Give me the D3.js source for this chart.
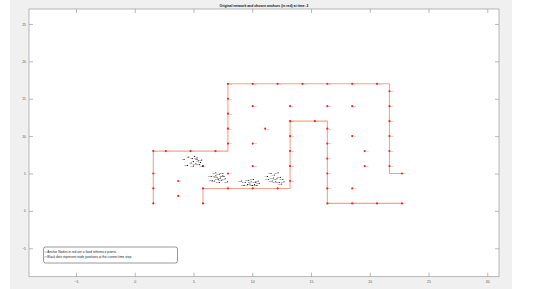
<!DOCTYPE html>
<html>
<head>
<meta charset="utf-8">
<script src="https://cdn.jsdelivr.net/npm/d3@7"></script>
<style>
  body { margin: 0; background: #fff; }
  text { font-family: "Liberation Sans", Arial, sans-serif; }
</style>
</head>
<body>
<div id="chart"></div>
<script>
// data
const titleText = "Original network and chosen anchors (in red) at time: 2";
const legendLines = ["Anchor Nodes in red are a fixed reference points.",
                     "Black dots represent node positions at the current time step."];
const xTicks = [-5, 0, 5, 10, 15, 20, 25, 30];
const yTicks = [-5, 0, 5, 10, 15, 20, 25];

// outline (two polylines)
const path1X = [1.58, 1.58, 7.93, 7.93, 21.68, 21.68, 22.74];
const path1Y = [1, 8, 8, 17, 17, 5, 5];
const path2X = [5.81, 5.81, 13.22, 13.22, 16.39, 16.39, 22.74];
const path2Y = [1, 3, 3, 12, 12, 1, 1];

// anchors (red)
const anchorX = [1.58,1.58,1.58,1.58, 2.64, 3.70,3.70, 4.75, 5.81,5.81,5.81, 6.87,
  7.93,7.93,7.93,7.93,7.93,7.93,7.93, 10.04,10.04,10.04,10.04,10.04, 11.10,
  12.16,12.16, 13.22,13.22,13.22,13.22,13.22,13.22, 14.28, 15.33,
  16.39,16.39,16.39,16.39,16.39,16.39,16.39,16.39, 18.51,18.51,18.51,18.51,18.51,
  19.57,19.57, 20.62,20.62, 21.68,21.68,21.68,21.68,21.68,21.68, 22.74,22.74];
const anchorY = [8,5,3,1, 8, 4,2, 8, 6,3,1, 8,
  17,15,13,11,9,5,3, 17,14,9,6,3, 11,
  17,3, 14,12,10,8,6,4, 17, 12,
  17,14,11,9,7,5,3,1, 17,14,10,3,1,
  8,6, 17,1, 16,14,12,10,8,6, 5,1];

// current node positions (black)
const nodeX = [4.2,4.6,4.9,5.1,5.3,5.0,5.4,5.6,4.8,5.2,5.5,4.5,5.8,5.0,5.3,5.7,
  6.5,6.9,7.2,7.5,7.0,7.3,7.6,7.1,7.4,6.8,7.7,7.9,6.6,7.2,7.5,6.9,
  9.1,9.4,9.7,9.9,10.1,10.3,10.5,9.8,10.2,10.0,10.6,9.6,9.3,10.4,
  11.3,11.6,11.9,12.2,11.8,12.1,12.4,12.6,11.7,12.0,12.3,12.5,11.4,12.7];
const nodeY = [6.9,7.2,7.0,7.3,6.9,6.6,6.7,6.5,6.4,6.3,6.2,6.1,6.0,6.0,7.1,6.8,
  4.6,5.1,4.9,5.0,4.5,4.4,4.6,4.2,4.1,4.0,4.3,3.9,4.1,3.8,4.7,4.7,
  4.0,3.8,4.1,3.9,4.2,3.8,4.0,3.6,3.5,3.4,3.7,3.5,3.4,3.4,
  4.6,5.0,4.8,5.1,4.4,4.3,4.5,4.2,4.0,3.9,3.8,3.6,4.2,3.9];

var width = 550, height = 289;

var svg = d3.select("#chart").append("svg")
  .attr("width", width)
  .attr("height", height);

// figure background
svg.append("rect")
  .attr("x", 10).attr("y", 0)
  .attr("width", 502).attr("height", 289)
  .attr("fill", "#f0f0f0");

var x = d3.scaleLinear().domain([-9, 31]).range([29, 499]);
var y = d3.scaleLinear().domain([-8.8, 27]).range([276.7, 9]);

// axes area
svg.append("rect")
  .attr("x", x(-9)).attr("y", y(27))
  .attr("width", x(31) - x(-9)).attr("height", y(-8.8) - y(27))
  .attr("fill", "#fff");

function styleAxis(g) {
  g.select(".domain").remove();
  g.selectAll(".tick line").attr("stroke", "#8c8c8c").attr("stroke-width", 0.6);
  g.selectAll(".tick text").attr("fill", "#555").attr("font-size", 3.4);
}

svg.append("g").attr("transform", "translate(0," + y(-8.8) + ")")
  .call(d3.axisBottom(x).tickValues(xTicks).tickSize(-4).tickPadding(3.5))
  .call(styleAxis);
svg.append("g").attr("transform", "translate(0," + y(27) + ")")
  .call(d3.axisTop(x).tickValues(xTicks).tickSize(-4).tickFormat(""))
  .call(styleAxis);
svg.append("g").attr("transform", "translate(" + x(-9) + ",0)")
  .call(d3.axisLeft(y).tickValues(yTicks).tickSize(-4).tickPadding(3))
  .call(styleAxis);
svg.append("g").attr("transform", "translate(" + x(31) + ",0)")
  .call(d3.axisRight(y).tickValues(yTicks).tickSize(-4).tickFormat(""))
  .call(styleAxis);

svg.append("rect")
  .attr("x", x(-9)).attr("y", y(27))
  .attr("width", x(31) - x(-9)).attr("height", y(-8.8) - y(27))
  .attr("fill", "none")
  .attr("stroke", "#9a9a9a")
  .attr("stroke-width", 0.7);

// outline
var line = d3.line().x(d => x(d[0])).y(d => y(d[1]));
[[path1X, path1Y], [path2X, path2Y]].forEach(function(p) {
  svg.append("path")
    .datum(d3.zip(p[0], p[1]))
    .attr("d", line)
    .attr("fill", "none")
    .attr("stroke", "#f3a58f")
    .attr("stroke-width", 1.1);
});

// anchors
var anchors = d3.zip(anchorX, anchorY);
svg.selectAll(".anchor-label").data(anchors).enter().append("text")
  .attr("x", d => x(d[0]) + 1.3)
  .attr("y", d => y(d[1]) + 0.9)
  .attr("font-size", 2.4)
  .attr("fill", "#aaa")
  .text((d, i) => i + 1);
svg.selectAll(".anchor").data(anchors).enter().append("circle")
  .attr("cx", d => x(d[0]))
  .attr("cy", d => y(d[1]))
  .attr("r", 1.1)
  .attr("fill", "#ff2020");

// nodes
var nodes = d3.zip(nodeX, nodeY);
svg.selectAll(".node-label").data(nodes).enter().append("text")
  .attr("x", d => x(d[0]) - 0.8)
  .attr("y", d => y(d[1]) + 0.8)
  .attr("text-anchor", "end")
  .attr("font-size", 2.3)
  .attr("fill", "#444")
  .text((d, i) => i + 1);
svg.selectAll(".node").data(nodes).enter().append("circle")
  .attr("cx", d => x(d[0]))
  .attr("cy", d => y(d[1]))
  .attr("r", 0.6)
  .attr("fill", "#000");

// title
svg.append("text")
  .attr("x", (x(-9) + x(31)) / 2)
  .attr("y", 6.5)
  .attr("text-anchor", "middle")
  .attr("font-size", 3.4)
  .attr("font-weight", "bold")
  .attr("fill", "#111")
  .text(titleText);

// legend
svg.append("rect")
  .attr("x", 43.5).attr("y", 247)
  .attr("width", 134).attr("height", 16)
  .attr("rx", 2)
  .attr("fill", "#fff")
  .attr("stroke", "#333")
  .attr("stroke-width", 0.5);
legendLines.forEach(function(t, i) {
  var ly = 252 + i * 4.8;
  svg.append("line")
    .attr("x1", 44.5).attr("x2", 47)
    .attr("y1", ly).attr("y2", ly)
    .attr("stroke", "#555").attr("stroke-width", 0.4);
  svg.append("text")
    .attr("x", 47.3).attr("y", ly + 1.1)
    .attr("font-size", 3.2)
    .attr("fill", "#222")
    .text(t);
});
</script>
</body>
</html>
